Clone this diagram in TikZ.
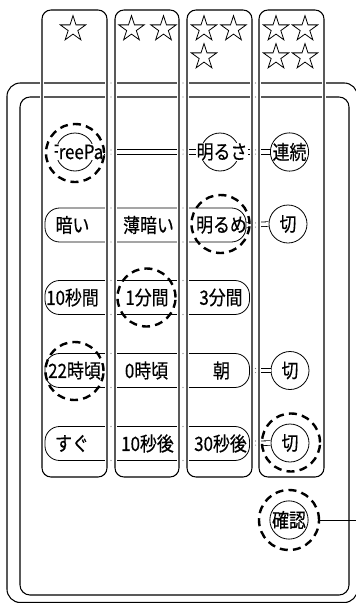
\documentclass[tikz,border=0pt]{standalone}
\usepackage{fontspec}
\usepackage{graphicx}
\setmainfont{Noto Sans CJK JP}
\newfontfamily\jpf{Noto Sans CJK JP}[FakeBold=0.5]
\newcommand\tx[1]{\scalebox{0.96}[1.12]{#1}}
\usetikzlibrary{shapes.geometric}
\begin{document}
\begin{tikzpicture}[x=0.75pt,y=-0.75pt,
  panel/.style={draw, line width=0.8pt},
  colbox/.style={draw, line width=0.8pt, rounded corners=6.75pt, preaction={draw=white, line width=2.8pt}},
  pill/.style={draw, line width=0.6pt, rectangle, rounded corners=11pt, minimum height=25.5pt, inner sep=0pt},
  lbl/.style={font=\jpf\fontsize{13.2pt}{15pt}\selectfont, inner sep=0.5pt},
  wlbl/.style={lbl, fill=white},
  btn/.style={draw, circle, line width=0.6pt, minimum size=28.5pt, inner sep=0pt, font=\jpf\fontsize{13.2pt}{15pt}\selectfont},
  ring/.style={draw, circle, line width=1.8pt, dash pattern=on 6pt off 3.9pt, minimum size=43.5pt, inner sep=0pt},
  dbl/.style={draw, line width=0.6pt, double, double distance=2.8pt},
  gapdot/.style={fill=black!55},
  starmark/.style={draw, star, star points=5, star point ratio=2.618, minimum size=20pt, inner sep=0pt, line width=0.6pt}
]
\useasboundingbox (0,0) rectangle (356,603);
\begin{scope}
\clip (0,0) rectangle (356,603);
% panel
\draw[panel, rounded corners=10pt] (7,83) rectangle (357.5,602.5);
\draw[panel, rounded corners=7.5pt] (20,97) rectangle (349,595);

% row 1
\node[btn] (fpc) at (75,152) {};
\node[btn] (akc) at (220,152) {};
\node[btn] (ren) at (289.5,152) {\tx{連続}};
\coordinate (fpe) at (103.5,152);
\draw[dbl] (fpe) -- (akc.west);
\draw[dbl] (akc.east) -- (ren.west);
\begin{scope}
\clip (54.5,130) rectangle (106,175);
\node[wlbl] (fp) at (76.5,152) {\tx{FreePa}};
\end{scope}
\node[wlbl] (ak) at (222,152) {\tx{明るさ}};

% row 2
\node[pill, minimum width=150.75pt] (p2) at (145.5,225) {};
\node[btn] (k2) at (288,224) {\tx{切}};
\draw[dbl] (p2.east) -- (k2.west);
\node[lbl] (t21) at (72.5,225) {\tx{暗い}};
\node[lbl] (t22) at (148.5,225) {\tx{薄暗い}};
\node[lbl] (t23) at (221.5,225) {\tx{明るめ}};

% row 3
\node[pill, minimum width=153.4pt] (p3) at (147.25,297.5) {};
\node[lbl] (t31) at (72.5,297.5) {\tx{10秒間}};
\node[lbl] (t32) at (147,297.5) {\tx{1分間}};
\node[lbl] (t33) at (221,297.5) {\tx{3分間}};

% row 4
\node[pill, minimum width=153.4pt] (p4) at (147.25,370.5) {};
\node[btn] (k4) at (290,370.5) {\tx{切}};
\draw[dbl] (p4.east) -- (k4.west);
\node[lbl] (t41) at (74.5,370.5) {\tx{22時頃}};
\node[lbl] (t42) at (146.5,370.5) {\tx{0時頃}};
\node[lbl] (t43) at (221.5,370.5) {\tx{朝}};

% row 5
\node[pill, minimum width=153.4pt] (p5) at (147.25,443.5) {};
\node[btn] (k5) at (290,443) {\tx{切}};
\draw[dbl] (p5.east) -- (k5.west);
\node[lbl] (t51) at (72,443.5) {\tx{すぐ}};
\node[lbl] (t52) at (147.5,443.5) {\tx{10秒後}};
\node[lbl] (t53) at (220.5,443.5) {\tx{30秒後}};

% confirm
\node[btn, minimum size=27pt] (kk) at (289,520) {\tx{確認}};
\node[ring, minimum size=45pt] (rk) at (289,520) {};
\coordinate (lead) at (356,520);
\draw[line width=0.7pt] (rk.east) -- (lead);

% gaps between strips
\foreach \a/\b in {107/115,179/187,252/259}
  \fill[white] (\a,75) rectangle (\b,470);
\foreach \gx in {111,183,255.5} {
  \foreach \gy in {83,97,149.9,154.1}
    \fill[gapdot] (\gx,\gy) circle (0.45pt);
}
\foreach \gx in {111,183} {
  \foreach \gy in {208,242,280.5,314.5,353.5,387.5,426.5,460.5}
    \fill[gapdot] (\gx,\gy) circle (0.45pt);
}
\foreach \gy in {222.9,227.1,368.4,372.6,440.9,445.1}
  \fill[gapdot] (255.5,\gy) circle (0.45pt);

% strips
\foreach \a/\b in {42/107,115/179,187/252,259/324}
  \draw[colbox] (\a,10) rectangle (\b,477);

% stars
\node[starmark] (s11) at (73,29) {};
\node[starmark] (s21) at (131.5,29) {};
\node[starmark] (s22) at (163.5,29) {};
\node[starmark] (s31) at (204,29) {};
\node[starmark] (s32) at (233.5,29) {};
\node[starmark] (s33) at (204,57) {};
\node[starmark] (s41) at (276,29) {};
\node[starmark] (s42) at (305,29) {};
\node[starmark] (s43) at (276,57) {};
\node[starmark] (s44) at (305,57) {};

% dashed rings
\node[ring] (fpr) at (75,153) {};
\node[ring] (r23) at (220.5,224) {};
\node[ring] (r32) at (146.5,297.5) {};
\node[ring] (r41) at (74.5,371) {};
\node[ring] (r5) at (291,442.5) {};
\end{scope}
\end{tikzpicture}
\end{document}
